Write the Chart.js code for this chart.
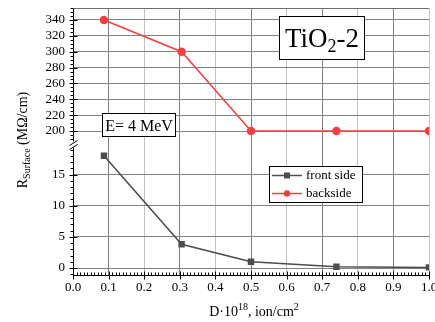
<!DOCTYPE html>
<html>
<head>
<meta charset="UTF-8">
<title>TiO2-2 surface resistance</title>
<script src="https://cdn.jsdelivr.net/npm/chart.js"></script>
<style>
  html, body { margin: 0; padding: 0; background: #fff; }
  #chart { display: block; }
</style>
</head>
<body>
<canvas id="chart" width="435" height="322"></canvas>
<script>
// dose, 10^18 ion/cm^2
const doses = [0.087, 0.305, 0.5, 0.74, 1.0];
// R surface, MOhm/cm
const frontSide = [18.0, 3.8, 1.0, 0.2, 0.1];
const backSide = [340, 300, 200, 200, 200];

const xTicks = [0.0, 0.1, 0.2, 0.3, 0.4, 0.5, 0.6, 0.7, 0.8, 0.9, 1.0];
const lowTicks = [0, 5, 10, 15];
const highTicks = [200, 220, 240, 260, 280, 300, 320, 340];

const serif = "'Liberation Serif', 'Times New Roman', serif";
const frontColor = '#4d4d4d';
const backColor = '#f23f3f';

Chart.defaults.font.family = serif;
Chart.defaults.font.size = 13;
Chart.defaults.color = '#000';

function fixedTicks(list) {
  return function (scale) {
    scale.ticks = list.map(v => ({ value: v }));
  };
}

// draws the text parts one after another, with sub/superscripts
function richText(ctx, parts, x, y, align) {
  let total = 0;
  parts.forEach(p => {
    ctx.font = p.size + 'px ' + serif;
    p.w = ctx.measureText(p.t).width;
    total += p.w;
  });
  let cx = align === 'center' ? x - total / 2 : x;
  parts.forEach(p => {
    ctx.font = p.size + 'px ' + serif;
    ctx.fillText(p.t, cx, y + (p.dy || 0));
    cx += p.w;
  });
  return total;
}

const extras = {
  id: 'extras',
  afterDraw(chart) {
    const ctx = chart.ctx;
    const area = chart.chartArea;
    const sx = chart.scales.x;
    const sLow = chart.scales.yLow;
    const sHigh = chart.scales.yHigh;
    ctx.save();

    // top frame line
    ctx.strokeStyle = '#6e6e6e';
    ctx.lineWidth = 1;
    ctx.beginPath();
    ctx.moveTo(area.left, area.top + 0.5);
    ctx.lineTo(area.right, area.top + 0.5);
    ctx.stroke();

    // tick marks
    ctx.strokeStyle = '#000';
    ctx.beginPath();
    const ax = Math.round(area.left) + 0.5;
    const ay = Math.round(area.bottom) + 0.5;
    for (let i = 0; i <= 100; i++) {
      const px = Math.round(sx.getPixelForValue(i / 100)) + 0.5;
      if (i % 10 === 0) { ctx.moveTo(px, ay - 4); ctx.lineTo(px, ay + 4); }
      else { ctx.moveTo(px, ay - 3); ctx.lineTo(px, ay); }
    }
    for (let v = -1; v <= 20; v++) {
      const py = Math.round(sLow.getPixelForValue(v)) + 0.5;
      if (py < sLow.top + 6) continue;
      if (v % 5 === 0) { ctx.moveTo(ax - 4, py); ctx.lineTo(ax + 4, py); }
      else { ctx.moveTo(ax - 3, py); ctx.lineTo(ax, py); }
    }
    for (let v = 190; v <= 355; v += 5) {
      const py = Math.round(sHigh.getPixelForValue(v)) + 0.5;
      if (py > sHigh.bottom - 1) continue;
      if (v % 20 === 0) { ctx.moveTo(ax - 4, py); ctx.lineTo(ax + 4, py); }
      else { ctx.moveTo(ax - 3, py); ctx.lineTo(ax, py); }
    }
    ctx.stroke();

    // axis break
    const by = sHigh.bottom;
    ctx.fillStyle = '#fff';
    ctx.fillRect(ax - 2, by, 4, 6);
    ctx.beginPath();
    ctx.moveTo(ax - 4, by + 4); ctx.lineTo(ax + 4, by - 1);
    ctx.moveTo(ax - 4, by + 8); ctx.lineTo(ax + 4, by + 3);
    ctx.stroke();

    ctx.fillStyle = '#000';
    ctx.textBaseline = 'alphabetic';

    // TiO2-2 label
    ctx.fillStyle = '#fff';
    ctx.fillRect(279.5, 16.5, 85, 43);
    ctx.strokeRect(279.5, 16.5, 85, 43);
    ctx.fillStyle = '#000';
    richText(ctx, [
      { t: 'TiO', size: 27 },
      { t: '2', size: 18, dy: 5 },
      { t: '-2', size: 27 }
    ], 322, 47, 'center');

    // energy label
    ctx.fillStyle = '#fff';
    ctx.fillRect(102.5, 113.5, 73, 23);
    ctx.strokeRect(102.5, 113.5, 73, 23);
    ctx.fillStyle = '#000';
    ctx.font = '16px ' + serif;
    ctx.textAlign = 'center';
    ctx.fillText('E= 4 MeV', 139, 131);
    ctx.textAlign = 'left';

    // legend
    ctx.fillStyle = '#fff';
    ctx.fillRect(269.5, 166.5, 93, 36);
    ctx.strokeRect(269.5, 166.5, 93, 36);
    const rows = [
      { label: 'front side', color: frontColor, rect: true, y: 175.5 },
      { label: 'backside', color: backColor, rect: false, y: 193.5 }
    ];
    rows.forEach(r => {
      ctx.strokeStyle = r.color;
      ctx.lineWidth = 1.5;
      ctx.beginPath();
      ctx.moveTo(272, r.y); ctx.lineTo(302, r.y);
      ctx.stroke();
      ctx.fillStyle = r.color;
      if (r.rect) ctx.fillRect(284, r.y - 3, 6, 6);
      else { ctx.beginPath(); ctx.arc(287, r.y, 3.2, 0, Math.PI * 2); ctx.fill(); }
      ctx.fillStyle = '#000';
      ctx.font = '13px ' + serif;
      ctx.textBaseline = 'middle';
      ctx.fillText(r.label, 306, r.y);
    });
    ctx.textBaseline = 'alphabetic';

    // axis titles
    ctx.fillStyle = '#000';
    richText(ctx, [
      { t: 'D\u00b710', size: 14 },
      { t: '18', size: 10, dy: -6 },
      { t: ', ion/cm', size: 14 },
      { t: '2', size: 10, dy: -6 }
    ], 254, 316, 'center');

    ctx.translate(27, 140);
    ctx.rotate(-Math.PI / 2);
    richText(ctx, [
      { t: 'R', size: 14 },
      { t: 'Surface', size: 10, dy: 3 },
      { t: ' (M\u03a9/cm)', size: 14 }
    ], 0, 0, 'center');

    ctx.restore();
  }
};

const tickFont = { family: serif, size: 13 };

new Chart(document.getElementById('chart'), {
  type: 'line',
  data: {
    datasets: [
      {
        label: 'front side',
        data: doses.map((d, i) => ({ x: d, y: frontSide[i] })),
        yAxisID: 'yLow',
        borderColor: frontColor,
        backgroundColor: frontColor,
        borderWidth: 1.5,
        pointStyle: 'rect',
        pointRadius: 3.5,
        tension: 0
      },
      {
        label: 'backside',
        data: doses.map((d, i) => ({ x: d, y: backSide[i] })),
        yAxisID: 'yHigh',
        borderColor: backColor,
        backgroundColor: backColor,
        borderWidth: 1.5,
        pointStyle: 'circle',
        pointRadius: 3.5,
        tension: 0
      }
    ]
  },
  options: {
    responsive: false,
    animation: false,
    events: [],
    layout: { padding: { top: 8, right: 6, bottom: 0, left: 0 } },
    plugins: { legend: { display: false }, tooltip: { enabled: false } },
    scales: {
      x: {
        type: 'linear',
        min: 0,
        max: 1,
        afterBuildTicks: fixedTicks(xTicks),
        afterFit(s) { s.height = 47; s.paddingLeft = 0; s.paddingRight = 0; },
        border: { color: '#000', width: 1 },
        grid: {
          drawTicks: false,
          color: c => (c.index % 2 === 1 ? '#7e7e7e' : '#c2c2c2')
        },
        ticks: {
          padding: 5,
          autoSkip: false,
          color: '#000',
          font: tickFont,
          maxRotation: 0,
          callback: v => Number(v).toFixed(1)
        }
      },
      yLow: {
        type: 'linear',
        position: 'left',
        stack: 'rs',
        stackWeight: 1,
        min: -1.12,
        max: 20.3,
        afterBuildTicks: fixedTicks(lowTicks),
        afterFit(s) { s.width = 73; s.paddingTop = 0; s.paddingBottom = 0; },
        border: { color: '#000', width: 1 },
        grid: { drawTicks: false, color: '#808080' },
        ticks: {
          padding: 8,
          autoSkip: false,
          color: '#000',
          font: tickFont
        }
      },
      yHigh: {
        type: 'linear',
        position: 'left',
        stack: 'rs',
        stackWeight: 1,
        min: 186.8,
        max: 355.1,
        afterBuildTicks: fixedTicks(highTicks),
        afterFit(s) { s.width = 73; s.paddingTop = 0; s.paddingBottom = 0; },
        border: { color: '#000', width: 1 },
        grid: { drawTicks: false, color: '#808080' },
        ticks: {
          padding: 8,
          autoSkip: false,
          color: '#000',
          font: tickFont
        }
      }
    }
  },
  plugins: [extras]
});
</script>
</body>
</html>
